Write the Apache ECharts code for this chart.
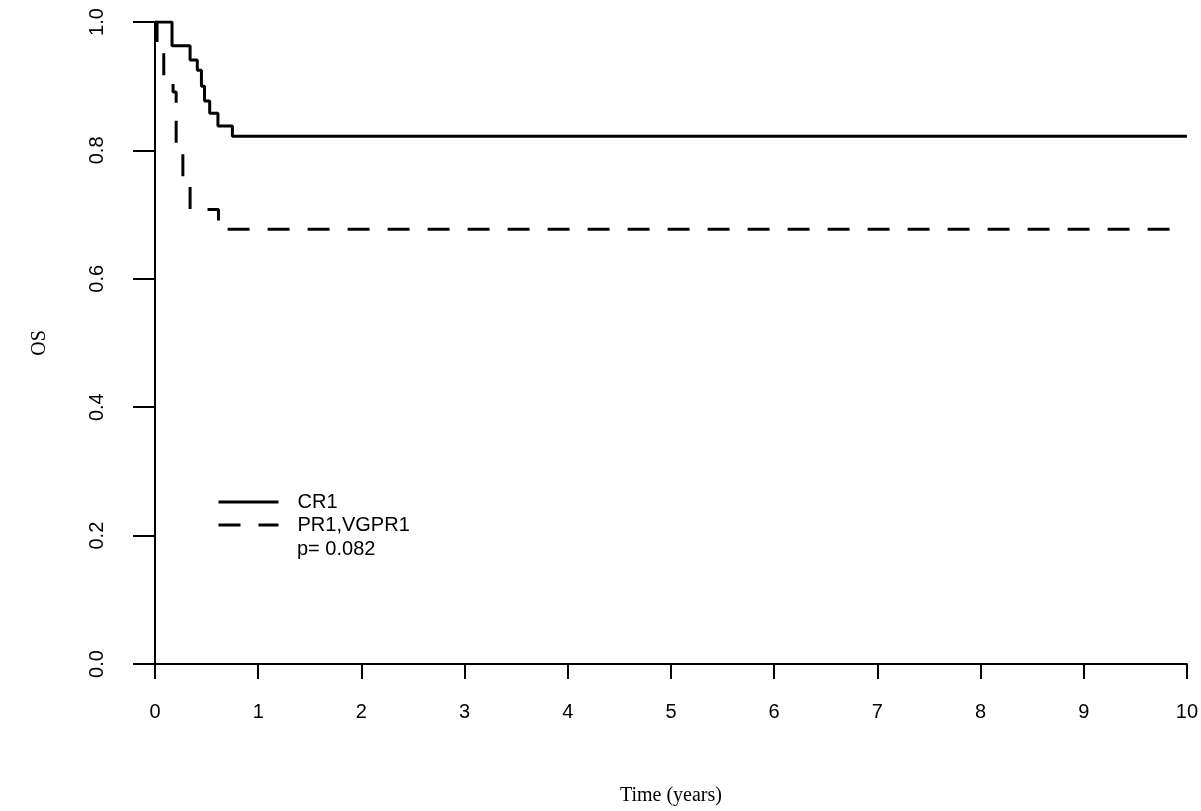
<!DOCTYPE html>
<html>
<head>
<meta charset="utf-8">
<title>OS by response</title>
<script src="https://cdn.jsdelivr.net/npm/echarts@6/dist/echarts.min.js"></script>
<style>
  html, body { margin: 0; padding: 0; background: #fff; }
  #chart { width: 1201px; height: 811px; }
</style>
</head>
<body>
<div id="chart"></div>
<script>
// ── data ────────────────────────────────────────────────────────────────────
// Kaplan–Meier steps: time (years) where the curve drops, and the new survival value
const cr1Times  = [0, 0.165, 0.34, 0.41, 0.45, 0.48, 0.53, 0.61, 0.75, 10];
const cr1Surv   = [1.0, 0.963, 0.941, 0.925, 0.900, 0.877, 0.858, 0.838, 0.822, 0.822];

const prTimes   = [0, 0.02, 0.085, 0.175, 0.205, 0.27, 0.34, 0.615, 10];
const prSurv    = [1.0, 0.964, 0.917, 0.891, 0.798, 0.756, 0.708, 0.677, 0.677];

const seriesNames = ['CR1', 'PR1,VGPR1'];
const pValueText = 'p= 0.082';
const xTicks = [0, 10, 1];      // min, max, interval
const yTicks = [0, 1, 0.2];

// ── helpers ────────────────────────────────────────────────────────────────
const zip = (xs, ys) => xs.map((x, i) => [x, ys[i]]);

const SANS = 'Liberation Sans, Arial, sans-serif';
const SERIF = 'Liberation Serif, Times New Roman, serif';

const chart = echarts.init(document.getElementById('chart'), null, { renderer: 'canvas' });

chart.setOption({
  backgroundColor: '#ffffff',
  animation: false,
  grid: { left: 155, right: 14, top: 22, bottom: 146, containLabel: false },
  xAxis: {
    type: 'value',
    min: xTicks[0], max: xTicks[1], interval: xTicks[2],
    name: 'Time (years)',
    nameLocation: 'middle',
    nameGap: 122,
    nameTextStyle: { fontFamily: SERIF, fontSize: 20, color: '#000' },
    axisLine: { show: true, onZero: false, lineStyle: { color: '#000', width: 2 } },
    axisTick: { show: true, inside: false, length: 15, lineStyle: { color: '#000', width: 2 } },
    axisLabel: { margin: 38, fontFamily: SANS, fontSize: 20, color: '#000' },
    splitLine: { show: false },
  },
  yAxis: {
    type: 'value',
    min: yTicks[0], max: yTicks[1], interval: yTicks[2],
    name: 'OS',
    nameLocation: 'middle',
    nameGap: 105,
    nameRotate: 90,
    nameTextStyle: { fontFamily: SERIF, fontSize: 20, color: '#000' },
    axisLine: { show: true, onZero: false, lineStyle: { color: '#000', width: 2 } },
    axisTick: { show: true, inside: false, length: 22, lineStyle: { color: '#000', width: 2 } },
    axisLabel: {
      rotate: 90, margin: 48, fontFamily: SANS, fontSize: 20, color: '#000',
      formatter: v => v.toFixed(1),
    },
    splitLine: { show: false },
  },
  legend: {
    orient: 'vertical',
    left: 212, top: 487,
    itemWidth: 60, itemHeight: 14, itemGap: 3,
    data: seriesNames,
    itemStyle: { opacity: 0 },   // hide the point symbol, keep the line sample
    lineStyle: { width: 3 },
    textStyle: { fontFamily: SANS, fontSize: 20, color: '#000', lineHeight: 20, padding: [0, 0, 0, 14] },
  },
  graphic: [
    {
      type: 'text', left: 297, top: 539,
      style: { text: pValueText, font: '20px ' + SANS, fill: '#000' },
    },
  ],
  series: [
    {
      name: seriesNames[0],
      type: 'line', step: 'end', showSymbol: false, symbol: 'none',
      data: zip(cr1Times, cr1Surv),
      lineStyle: { color: '#000', width: 3, type: 'solid' },
      itemStyle: { color: '#000' },
    },
    {
      name: seriesNames[1],
      type: 'line', step: 'end', showSymbol: false, symbol: 'none',
      data: zip(prTimes, prSurv),
      lineStyle: { color: '#000', width: 3, type: [22, 18] },
      itemStyle: { color: '#000' },
    },
  ],
});
</script>
</body>
</html>
